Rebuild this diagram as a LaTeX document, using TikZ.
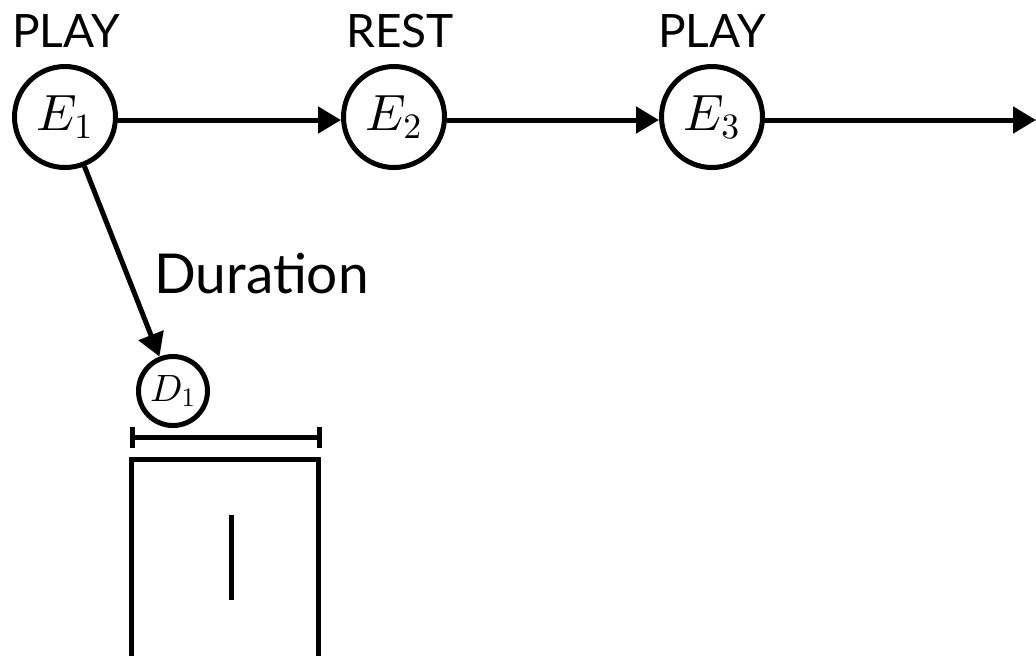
\documentclass[tikz,border=0pt]{standalone}
\usepackage{fontspec}
\setsansfont{Lato}
\DeclareFontShape{OML}{cmm}{m}{it}{<->cmmi10}{}
\DeclareFontShape{OT1}{cmr}{m}{n}{<->cmr10}{}
\usetikzlibrary{arrows.meta}
\begin{document}
\begin{tikzpicture}[x=0.5pt,y=-0.5pt,
  ev/.style={circle,draw,line width=2.5pt,minimum size=50.5pt,inner sep=0pt,font=\fontsize{25.5}{30}\selectfont},
  dv/.style={circle,draw,line width=2.5pt,minimum size=34.5pt,inner sep=0pt,font=\fontsize{19}{23}\selectfont},
  lbl/.style={font=\sffamily\fontsize{23}{27}\selectfont,inner sep=0pt,anchor=base},
  durlbl/.style={font=\sffamily\fontsize{27.5}{32}\selectfont,inner sep=0pt,anchor=base west},
  conn/.style={line width=2.5pt,-{Triangle[length=11.5pt,width=13pt]}},
  thickline/.style={line width=2.5pt}]
\useasboundingbox (0,0) rectangle (1036,655);
\clip (0,0) rectangle (1036,655);
\node[ev] (E1) at (65,117) {$E_1$};
\node[ev] (E2) at (394,117) {$E_2$};
\node[ev] (E3) at (712,117) {$E_3$};
\coordinate (end) at (1036,120);
\node[dv] (D1) at (173,391) {$D_1$};
\node[lbl] (l1) at (66,47) {PLAY};
\node[lbl] (l2) at (400,47) {REST};
\node[lbl] (l3) at (712,47) {PLAY};
\node[durlbl] (dur) at (154,293) {Duration};
\draw[conn] ([yshift=-1.5pt]E1.east) -- ([yshift=-1.5pt]E2.west);
\draw[conn] ([yshift=-1.5pt]E2.east) -- ([yshift=-1.5pt]E3.west);
\draw[conn] ([yshift=-1.5pt]E3.east) -- (end);
\draw[conn] (E1) -- (D1);
% duration bar
\draw[thickline] (131,437) -- (320,437);
\draw[thickline] (132,427) -- (132,448);
\draw[thickline] (319,427) -- (319,448);
% box
\draw[thickline] (131.5,700) -- (131.5,459) -- (318,459) -- (318,700);
\draw[thickline] (231.5,515) -- (231.5,600);
\end{tikzpicture}
\end{document}
